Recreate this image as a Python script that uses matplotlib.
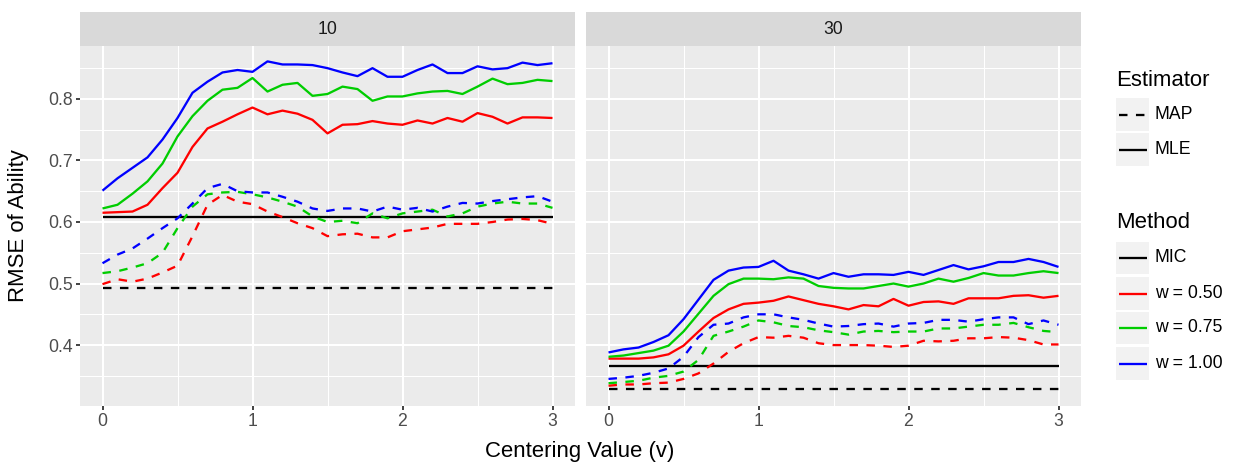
import numpy as np
import matplotlib
matplotlib.use('Agg')
import matplotlib.pyplot as plt
from matplotlib.lines import Line2D
from matplotlib.patches import Rectangle

plt.rcParams['font.family'] = ['Liberation Sans', 'DejaVu Sans']

# centering values 0, 0.1, ..., 3
v = np.round(np.arange(0, 3.01, 0.1), 1)

panels = ['10', '30']
methods = ['w = 0.50', 'w = 0.75', 'w = 1.00']
colors = ['#FF0000', '#00CD00', '#0000FF']

# panel "10"
red_mle_10 = [0.615, 0.616, 0.617, 0.628, 0.655, 0.680, 0.722, 0.752, 0.763, 0.775, 0.786,
              0.775, 0.781, 0.776, 0.766, 0.744, 0.758, 0.759, 0.764, 0.760, 0.758,
              0.765, 0.760, 0.769, 0.763, 0.777, 0.771, 0.760, 0.770, 0.770, 0.769]
green_mle_10 = [0.622, 0.628, 0.646, 0.666, 0.695, 0.739, 0.772, 0.797, 0.815, 0.818, 0.834,
                0.812, 0.823, 0.826, 0.805, 0.808, 0.820, 0.816, 0.797, 0.804, 0.804,
                0.809, 0.812, 0.813, 0.808, 0.820, 0.833, 0.824, 0.826, 0.831, 0.829]
blue_mle_10 = [0.651, 0.671, 0.688, 0.705, 0.734, 0.769, 0.810, 0.828, 0.843, 0.847, 0.844,
               0.861, 0.856, 0.856, 0.855, 0.850, 0.843, 0.837, 0.850, 0.836, 0.836,
               0.847, 0.856, 0.842, 0.842, 0.853, 0.848, 0.850, 0.859, 0.855, 0.858]
red_map_10 = [0.499, 0.507, 0.503, 0.508, 0.518, 0.529, 0.577, 0.628, 0.644, 0.633, 0.629,
              0.617, 0.608, 0.598, 0.590, 0.577, 0.580, 0.581, 0.575, 0.575, 0.585,
              0.588, 0.591, 0.597, 0.597, 0.597, 0.600, 0.604, 0.605, 0.603, 0.597]
green_map_10 = [0.517, 0.520, 0.526, 0.533, 0.550, 0.590, 0.625, 0.645, 0.648, 0.649, 0.645,
                0.640, 0.633, 0.625, 0.609, 0.600, 0.602, 0.598, 0.614, 0.606, 0.614,
                0.617, 0.620, 0.609, 0.614, 0.625, 0.630, 0.633, 0.630, 0.630, 0.623]
blue_map_10 = [0.533, 0.547, 0.557, 0.573, 0.590, 0.606, 0.630, 0.655, 0.662, 0.650, 0.648,
               0.648, 0.641, 0.633, 0.622, 0.618, 0.622, 0.622, 0.617, 0.625, 0.620,
               0.623, 0.617, 0.625, 0.631, 0.630, 0.634, 0.637, 0.640, 0.642, 0.633]

# panel "30"
red_mle_30 = [0.378, 0.378, 0.378, 0.380, 0.385, 0.399, 0.422, 0.444, 0.458, 0.467, 0.469,
              0.472, 0.479, 0.473, 0.467, 0.463, 0.458, 0.465, 0.463, 0.475, 0.464,
              0.470, 0.471, 0.467, 0.476, 0.476, 0.476, 0.480, 0.481, 0.477, 0.480]
green_mle_30 = [0.381, 0.383, 0.387, 0.391, 0.399, 0.422, 0.451, 0.480, 0.499, 0.508, 0.508,
                0.507, 0.510, 0.508, 0.496, 0.493, 0.492, 0.492, 0.496, 0.500, 0.495,
                0.500, 0.508, 0.503, 0.509, 0.517, 0.513, 0.513, 0.517, 0.520, 0.517]
blue_mle_30 = [0.388, 0.393, 0.396, 0.405, 0.416, 0.442, 0.474, 0.506, 0.521, 0.526, 0.527,
               0.537, 0.521, 0.515, 0.508, 0.517, 0.511, 0.515, 0.515, 0.514, 0.519,
               0.514, 0.522, 0.530, 0.523, 0.528, 0.535, 0.535, 0.540, 0.535, 0.527]
red_map_30 = [0.334, 0.336, 0.336, 0.338, 0.339, 0.345, 0.354, 0.370, 0.389, 0.403, 0.413,
              0.412, 0.415, 0.412, 0.403, 0.400, 0.400, 0.400, 0.399, 0.397, 0.399,
              0.407, 0.406, 0.407, 0.411, 0.411, 0.413, 0.412, 0.408, 0.401, 0.401]
green_map_30 = [0.338, 0.340, 0.342, 0.347, 0.350, 0.357, 0.376, 0.415, 0.422, 0.430, 0.440,
                0.437, 0.431, 0.429, 0.424, 0.421, 0.417, 0.422, 0.423, 0.421, 0.422,
                0.422, 0.427, 0.427, 0.430, 0.433, 0.433, 0.436, 0.429, 0.423, 0.421]
blue_map_30 = [0.345, 0.347, 0.350, 0.355, 0.362, 0.381, 0.413, 0.433, 0.435, 0.445, 0.450,
               0.450, 0.445, 0.441, 0.435, 0.430, 0.431, 0.434, 0.435, 0.430, 0.435,
               0.436, 0.441, 0.441, 0.438, 0.442, 0.445, 0.445, 0.434, 0.440, 0.433]

# MIC reference levels (constant across v)
mic_mle = [0.608, 0.366]
mic_map = [0.493, 0.329]

mle = {'10': [red_mle_10, green_mle_10, blue_mle_10], '30': [red_mle_30, green_mle_30, blue_mle_30]}
map_ = {'10': [red_map_10, green_map_10, blue_map_10], '30': [red_map_30, green_map_30, blue_map_30]}

W, H = 1238, 468
fig = plt.figure(figsize=(W / 100, H / 100), dpi=100)

LW = 1.65
DASH = (3.7, 3.7)
TXT = 12.7
TITLE = 15.9


def box(x0, y0, x1, y1):
    # pixel box -> figure fraction rect
    return [x0 / W, 1 - y1 / H, (x1 - x0) / W, (y1 - y0) / H]


lefts = [80, 586]
for k, p in enumerate(panels):
    x0 = lefts[k]
    ax = fig.add_axes(box(x0, 46, x0 + 495, 406))
    ax.set_facecolor('#EBEBEB')
    for s in ax.spines.values():
        s.set_visible(False)
    ax.set_xlim(-0.15, 3.15)
    ax.set_ylim(0.301, 0.886)
    ax.set_xticks([0, 1, 2, 3])
    ax.set_xticks([0.5, 1.5, 2.5], minor=True)
    ax.set_yticks([0.4, 0.5, 0.6, 0.7, 0.8])
    ax.set_yticks([0.35, 0.45, 0.55, 0.65, 0.75, 0.85], minor=True)
    ax.grid(which='major', color='white', lw=1.5)
    ax.grid(which='minor', color='white', lw=0.75)
    ax.set_axisbelow(True)
    ax.tick_params(which='major', length=3, width=1.3, color='#333333',
                   labelsize=TXT, labelcolor='#4D4D4D', pad=2.2)
    ax.tick_params(which='minor', length=0)
    if k == 0:
        ax.set_yticklabels(['0.4', '0.5', '0.6', '0.7', '0.8'])
    else:
        ax.set_yticklabels([])
        ax.tick_params(axis='y', length=0)

    ax.plot(v, np.full(len(v), mic_mle[k]), color='black', lw=LW, solid_capstyle='butt')
    ax.plot(v, np.full(len(v), mic_map[k]), color='black', lw=LW, dashes=DASH,
            dash_capstyle='butt')
    for ys, c in zip(map_[p], colors):
        ax.plot(v, ys, color=c, lw=LW, dashes=DASH, dash_capstyle='butt')
    for ys, c in zip(mle[p], colors):
        ax.plot(v, ys, color=c, lw=LW, solid_capstyle='butt')

    # facet strip
    st = fig.add_axes(box(x0, 12, x0 + 495, 46))
    st.set_facecolor('#D9D9D9')
    st.set_xticks([])
    st.set_yticks([])
    for s in st.spines.values():
        s.set_visible(False)
    st.text(0.5, 0.5, p, ha='center', va='center', fontsize=TXT, color='#1A1A1A',
            transform=st.transAxes)

fig.text(580 / W, 1 - 451 / H, 'Centering Value (v)', ha='center', va='center',
         fontsize=TITLE, color='black')
fig.text(19 / W, 1 - 226 / H, 'RMSE of Ability', ha='center', va='center',
         rotation=90, fontsize=TITLE, color='black')

# legends
kx0, kx1 = 1116, 1149
lx = 1155


def key(y0, y1, label, color='black', dashed=False):
    fig.patches.append(Rectangle((kx0 / W, 1 - y1 / H), (kx1 - kx0) / W, (y1 - y0) / H,
                                 transform=fig.transFigure, facecolor='#F2F2F2',
                                 edgecolor='none'))
    yc = 1 - (y0 + y1) / 2 / H
    ln = Line2D([1119 / W, 1147 / W], [yc, yc], transform=fig.transFigure,
                color=color, lw=LW, solid_capstyle='butt', dash_capstyle='butt')
    if dashed:
        ln.set_dashes(DASH)
    fig.lines.append(ln)
    fig.text(lx / W, yc, label, ha='left', va='center', fontsize=TXT, color='black')


fig.text(kx0 / W, 1 - 80 / H, 'Estimator', ha='left', va='center', fontsize=TITLE)
key(98, 131, 'MAP', dashed=True)
key(133, 166, 'MLE')

fig.text(kx0 / W, 1 - 223 / H, 'Method', ha='left', va='center', fontsize=TITLE)
key(242, 274, 'MIC')
key(277, 310, methods[0], colors[0])
key(312, 344, methods[1], colors[1])
key(347, 380, methods[2], colors[2])

fig.savefig('out.png', dpi=100)
